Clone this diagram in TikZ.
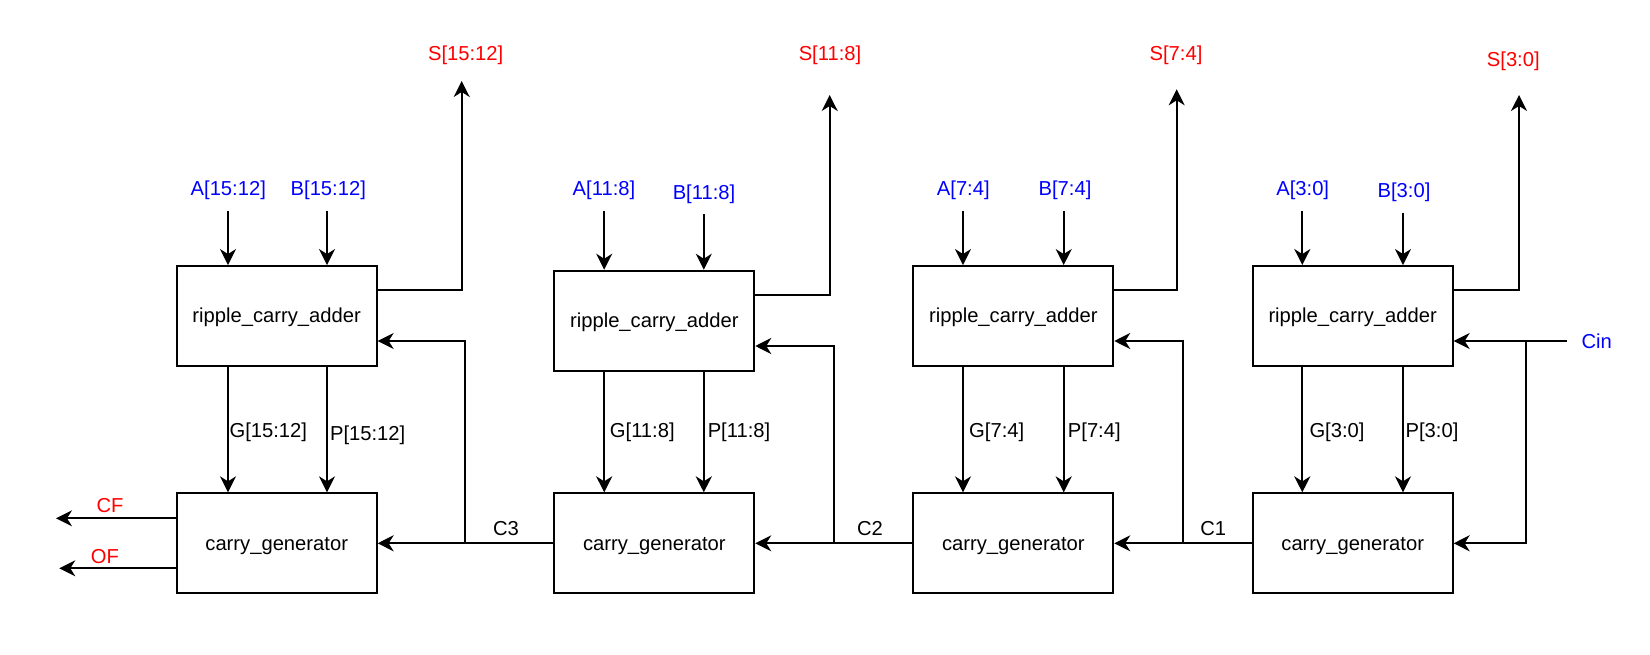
\documentclass[tikz,border=0pt]{standalone}
\usepackage{fontspec}
\setmainfont{Liberation Sans}
\usetikzlibrary{arrows.meta}
\definecolor{inblue}{RGB}{0,0,255}
\definecolor{outred}{RGB}{255,0,0}
\begin{document}
\begin{tikzpicture}[x=1pt,y=-1pt,
  every node/.style={font=\fontsize{20.2}{24}\selectfont, inner sep=0pt},
  blk/.style={draw, line width=1.9pt, minimum width=200pt, minimum height=100pt, fill=white, text height=18pt, text depth=4.2pt},
  wire/.style={line width=1.9pt},
  arr/.style={wire, -{Stealth[length=16pt,width=16pt,inset=5pt]}},
  inlbl/.style={text=inblue},
  outlbl/.style={text=outred},
]
\useasboundingbox (0,0) rectangle (1650,655);
\fill[white] (0,0) rectangle (1650,655);

% blocks
\node[blk] (rca1) at (276.7,316) {ripple\_carry\_adder};
\node[blk] (rca2) at (654.3,320.7) {ripple\_carry\_adder};
\node[blk] (rca3) at (1013.3,316) {ripple\_carry\_adder};
\node[blk] (rca4) at (1352.7,316) {ripple\_carry\_adder};
\node[blk] (cg1) at (276.7,543.3) {carry\_generator};
\node[blk] (cg2) at (654.3,543.3) {carry\_generator};
\node[blk] (cg3) at (1013.3,543.3) {carry\_generator};
\node[blk] (cg4) at (1352.7,543.3) {carry\_generator};

% input labels
\node[inlbl] (a1) at (228.3,190) {A[15:12]};
\node[inlbl] (b1) at (328.3,190) {B[15:12]};
\node[inlbl] (a2) at (604,190.3) {A[11:8]};
\node[inlbl] (b2) at (704,194.3) {B[11:8]};
\node[inlbl] (a3) at (963.3,190) {A[7:4]};
\node[inlbl] (b3) at (1065,190) {B[7:4]};
\node[inlbl] (a4) at (1302.7,190) {A[3:0]};
\node[inlbl] (b4) at (1404,192.7) {B[3:0]};
\node[inlbl] (cin) at (1596.7,341) {Cin};

% output labels
\node[outlbl] (s1) at (465.7,55.5) {S[15:12]};
\node[outlbl] (s2) at (830,55.5) {S[11:8]};
\node[outlbl] (s3) at (1176,55) {S[7:4]};
\node[outlbl] (s4) at (1513.3,61.2) {S[3:0]};
\node[outlbl] (cf) at (110,506) {CF};
\node[outlbl] (of) at (105,556.7) {OF};

% G / P labels
\node (g1) at (268.3,432) {G[15:12]};
\node (p1) at (367.7,435.3) {P[15:12]};
\node (g2) at (642.3,432) {G[11:8]};
\node (p2) at (739,432) {P[11:8]};
\node (g3) at (996.7,432) {G[7:4]};
\node (p3) at (1094.3,432) {P[7:4]};
\node (g4) at (1337,432) {G[3:0]};
\node (p4) at (1432,432) {P[3:0]};

% carry labels
\node (c1) at (1213.3,529) {C1};
\node (c2) at (870,529) {C2};
\node (c3) at (506,529) {C3};

% input arrow starts
\coordinate (a1s) at (228,211);
\coordinate (b1s) at (327,211);
\coordinate (a2s) at (604.2,211);
\coordinate (b2s) at (703.8,214.3);
\coordinate (a3s) at (963,211);
\coordinate (b3s) at (1063.7,211);
\coordinate (a4s) at (1302.3,211);
\coordinate (b4s) at (1403,212.7);

\foreach \i in {1,2,3,4}{
  \draw[arr] (a\i s) -- (a\i s |- rca\i.north);
  \draw[arr] (b\i s) -- (b\i s |- rca\i.north);
  \draw[arr] (a\i s |- rca\i.south) -- (a\i s |- cg\i.north);
  \draw[arr] (b\i s |- rca\i.south) -- (b\i s |- cg\i.north);
}

% sum outputs
\coordinate (s1t) at (461.7,81);
\coordinate (s2t) at (829.7,95);
\coordinate (s3t) at (1176.7,89.3);
\coordinate (s4t) at (1519,95);
\draw[arr] ([yshift=-24.7pt]rca1.north east) -| (s1t);
\draw[arr] ([yshift=-25pt]rca2.north east) -| (s2t);
\draw[arr] ([yshift=-24.7pt]rca3.north east) -| (s3t);
\draw[arr] ([yshift=-24.7pt]rca4.north east) -| (s4t);

% carry chain
\coordinate (j1) at (1183,543.3);
\coordinate (j2) at (833.7,543.3);
\coordinate (j3) at (465.3,543.3);
\draw[arr] (cg4.west) -- (cg3.east);
\draw[arr] (cg3.west) -- (cg2.east);
\draw[arr] (cg2.west) -- (cg1.east);
\draw[arr] (j1) |- ([yshift=-25pt]rca3.east);
\draw[arr] (j2) |- ([yshift=-25.3pt]rca2.east);
\draw[arr] (j3) |- ([yshift=-25pt]rca1.east);

% carry in
\coordinate (cinE) at (1566.7,341);
\coordinate (j0) at (1525.7,341);
\draw[arr] (cinE) -- ([yshift=-25pt]rca4.east);
\draw[arr] (j0) |- (cg4.east);

% flags
\coordinate (cfE) at (56,518.3);
\coordinate (ofE) at (59.3,568.3);
\draw[arr] ([yshift=25pt]cg1.west) -- (cfE);
\draw[arr] ([yshift=-25pt]cg1.west) -- (ofE);
\end{tikzpicture}
\end{document}
